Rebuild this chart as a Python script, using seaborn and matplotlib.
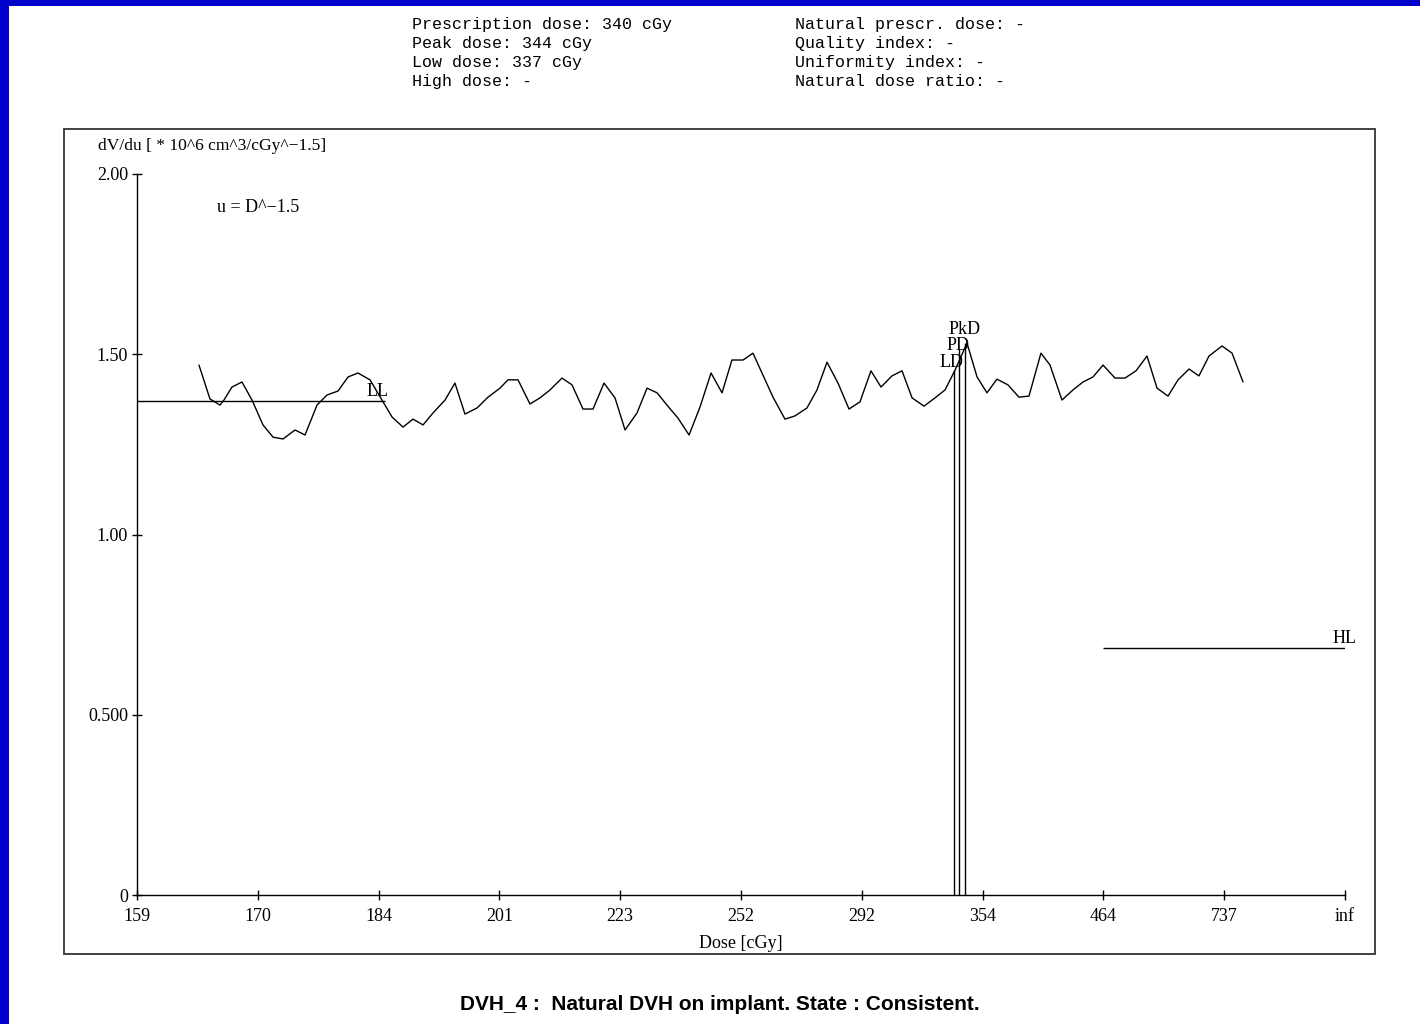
''' Natural DVH plot '''

import numpy as np
import pandas as pd
import matplotlib.pyplot as plt
import seaborn as sns
from matplotlib.patches import Rectangle

# x ticks: dose labels on the u = D^-1.5 axis (equal steps in u)
tick_labels = ["159", "170", "184", "201", "223", "252", "292", "354", "464", "737", "inf"]
y_ticks = [0, 0.5, 1.0, 1.5, 2.0]
y_tick_labels = ["0", "0.500", "1.00", "1.50", "2.00"]

# curve, x in axis steps (0 = 159 cGy, 10 = inf)
curve_x = [0.513, 0.604, 0.687, 0.720, 0.786, 0.869, 0.952, 1.043, 1.126, 1.209,
           1.308, 1.391, 1.490, 1.573, 1.664, 1.747, 1.829, 1.929, 2.028, 2.111,
           2.202, 2.285, 2.368, 2.450, 2.550, 2.632, 2.715, 2.815, 2.906, 3.005,
           3.071, 3.154, 3.253, 3.336, 3.419, 3.518, 3.601, 3.692, 3.775, 3.866,
           3.957, 4.040, 4.139, 4.222, 4.305, 4.387, 4.478, 4.570, 4.661, 4.752,
           4.843, 4.925, 5.017, 5.099, 5.182, 5.265, 5.364, 5.447, 5.546, 5.629,
           5.712, 5.803, 5.894, 5.985, 6.076, 6.159, 6.250, 6.333, 6.416, 6.515,
           6.606, 6.689, 6.772, 6.871, 6.954, 7.036, 7.119, 7.210, 7.301, 7.384,
           7.483, 7.558, 7.657, 7.748, 7.831, 7.914, 7.997, 8.096, 8.179, 8.270,
           8.361, 8.444, 8.535, 8.618, 8.709, 8.791, 8.874, 8.982, 9.065, 9.156]
curve_y = [1.470, 1.376, 1.359, 1.373, 1.409, 1.423, 1.373, 1.304, 1.270, 1.265,
           1.290, 1.276, 1.359, 1.387, 1.398, 1.437, 1.448, 1.429, 1.373, 1.326,
           1.298, 1.320, 1.304, 1.337, 1.373, 1.420, 1.334, 1.351, 1.381, 1.406,
           1.429, 1.429, 1.362, 1.379, 1.401, 1.434, 1.415, 1.348, 1.348, 1.420,
           1.379, 1.290, 1.337, 1.406, 1.393, 1.359, 1.323, 1.276, 1.354, 1.448,
           1.393, 1.484, 1.484, 1.503, 1.442, 1.381, 1.320, 1.329, 1.351, 1.401,
           1.478, 1.420, 1.348, 1.368, 1.454, 1.409, 1.440, 1.454, 1.379, 1.356,
           1.379, 1.401, 1.456, 1.531, 1.437, 1.393, 1.431, 1.415, 1.381, 1.384,
           1.503, 1.470, 1.373, 1.401, 1.423, 1.437, 1.470, 1.434, 1.434, 1.454,
           1.495, 1.406, 1.384, 1.429, 1.459, 1.440, 1.495, 1.523, 1.503, 1.423]

# markers: low dose, prescription dose, peak dose
marker_names = ["LD", "PD", "PkD"]
marker_dose = [337, 340, 344]
marker_top = [1.456, 1.515, 1.530]

# low / high limit lines
ll_level, ll_end = 1.370, 2.05
hl_level, hl_start = 0.685, 8.0

header_left = "Prescription dose: 340 cGy\nPeak dose: 344 cGy\nLow dose: 337 cGy\nHigh dose: -"
header_right = "Natural prescr. dose: -\nQuality index: -\nUniformity index: -\nNatural dose ratio: -"
title = "DVH_4 :  Natural DVH on implant. State : Consistent."


def dose_to_pos(d):
    # linear in u = D^-1.5, reversed
    return 10 * (1 - (159.0 / d) ** 1.5)


sns.set_theme(style="white")
plt.rcParams['font.family'] = ['Liberation Serif', 'DejaVu Serif']
plt.rcParams['text.color'] = 'black'
fs = 13

fig = plt.figure(figsize=(14.2, 10.24), dpi=100, facecolor="#0000cc")
# white page inside the blue frame
fig.patches.append(Rectangle((9 / 1420, 0), 1, 1 - 6 / 1024, transform=fig.transFigure,
                             facecolor="white", edgecolor="none", zorder=-5))
# outer box
fig.patches.append(Rectangle((64 / 1420, 1 - 954 / 1024), 1311 / 1420, 825 / 1024,
                             transform=fig.transFigure, facecolor="none",
                             edgecolor="#333333", linewidth=1.3, zorder=-4))

ax = fig.add_axes([137 / 1420, 1 - 895 / 1024, 1208 / 1420, 721 / 1024])
ax.set_facecolor("none")

df = pd.DataFrame({"x": curve_x, "y": curve_y})
sns.lineplot(data=df, x="x", y="y", sort=False, color="black", linewidth=1.0, ax=ax)

mx = [dose_to_pos(d) for d in marker_dose]
ax.vlines(mx, 0, marker_top, color="black", linewidth=1.0)
ax.text(mx[0] - 0.12, marker_top[0] + 0.022, marker_names[0], fontsize=fs, ha="left", va="center")
ax.text(mx[1] - 0.10, marker_top[1] + 0.008, marker_names[1], fontsize=fs, ha="left", va="center")
ax.text(mx[2] - 0.14, marker_top[2] + 0.038, marker_names[2], fontsize=fs, ha="left", va="center")

ax.hlines(ll_level, 0, ll_end, color="black", linewidth=1.0)
ax.text(ll_end - 0.15, ll_level + 0.003, "LL", fontsize=fs, ha="left", va="bottom")
ax.hlines(hl_level, hl_start, 10, color="black", linewidth=1.0)
ax.text(9.9, hl_level + 0.003, "HL", fontsize=fs, ha="left", va="bottom")

ax.set_xlim(0, 10)
ax.set_ylim(0, 2.0)
ax.set_xticks(range(len(tick_labels)))
ax.set_xticklabels(tick_labels)
ax.set_yticks(y_ticks)
ax.set_yticklabels(y_tick_labels)
ax.tick_params(axis="both", direction="inout", length=7, width=1.0, color="black",
               labelsize=fs, labelcolor="black", pad=3)
ax.tick_params(axis="x", bottom=True, pad=6)
ax.tick_params(axis="y", left=True)
ax.set_xlabel("")
ax.set_ylabel("")
sns.despine(ax=ax)
for side in ["left", "bottom"]:
    ax.spines[side].set_color("black")
    ax.spines[side].set_linewidth(1.0)
ax.spines["left"].set_zorder(5)

fig.text(98 / 1420, 1 - 146 / 1024, "dV/du [ * 10^6 cm^3/cGy^\u22121.5]", fontsize=12.6,
         ha="left", va="center")
fig.text(217 / 1420, 1 - 208 / 1024, "u = D^\u22121.5", fontsize=fs, ha="left", va="center")
fig.text(741 / 1420, 1 - 944 / 1024, "Dose [cGy]", fontsize=fs, ha="center", va="center")

fig.text(412 / 1420, 1 - 17 / 1024, header_left, family=["Liberation Mono", "DejaVu Sans Mono"],
         fontsize=12, ha="left", va="top", linespacing=1.34)
fig.text(795 / 1420, 1 - 17 / 1024, header_right, family=["Liberation Mono", "DejaVu Sans Mono"],
         fontsize=12, ha="left", va="top", linespacing=1.34)

fig.text(719.5 / 1420, 1 - 1004 / 1024, title, family=["Liberation Sans", "DejaVu Sans"],
         fontsize=15, fontweight="bold", ha="center", va="center")

fig.savefig("out.png", dpi=100, facecolor=fig.get_facecolor())
